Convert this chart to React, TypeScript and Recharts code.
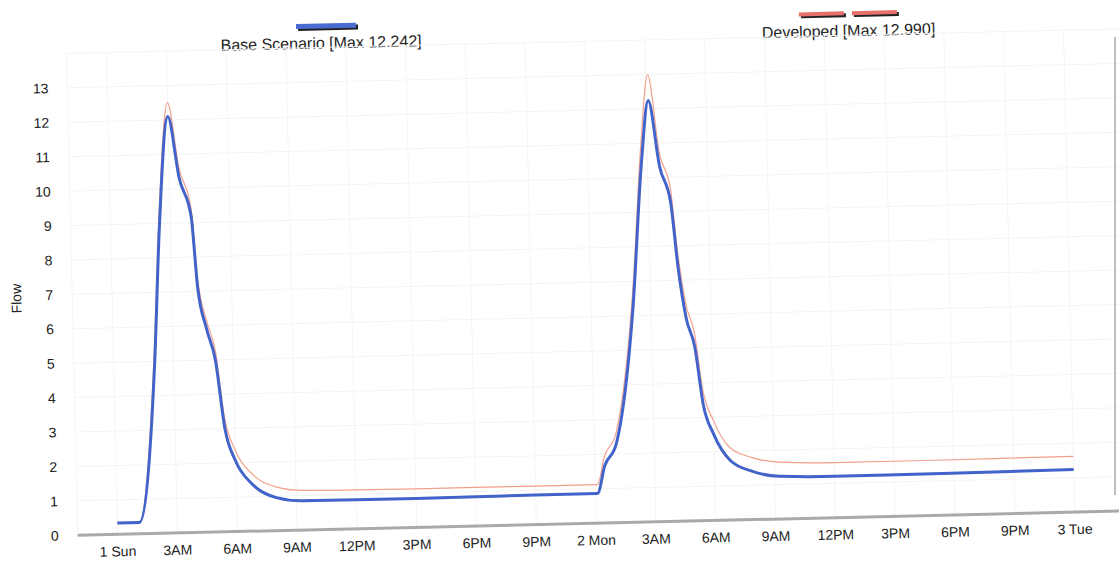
import React from "react";
import { LineChart, Line, XAxis, YAxis, CartesianGrid, Label } from "recharts";

// hours from "1 Sun" 00:00
const hours = [
  0, 1.1, 2.05, 2.45, 3.0, 3.5, 4.05, 4.3, 4.7, 5.1, 5.5, 6.0, 6.8, 8.0, 9.3,
  12, 15, 18, 21, 24.1, 24.5, 25.1, 26.1, 26.7, 27.1, 27.6, 28.1, 28.4, 28.75,
  29.15, 29.5, 30.0, 30.8, 31.9, 33.25, 36, 40, 44, 48,
];

const baseFlow = [
  0.33, 0.33, 4.9, 8.9, 12.1, 10.3, 9.2, 7.1, 5.9, 5.0, 3.0, 2.05, 1.37, 0.96, 0.85,
  0.84, 0.84, 0.85, 0.86, 0.86, 1.67, 2.29, 6.25, 10.5, 12.242, 10.3, 9.3, 7.4, 5.9,
  5.05, 3.4, 2.5, 1.73, 1.4, 1.24, 1.2, 1.21, 1.22, 1.24,
];

const developedFlow = [
  0.33, 0.33, 5.3, 9.3, 12.5, 10.6, 9.45, 7.4, 6.15, 5.3, 3.3, 2.35, 1.67, 1.27, 1.15,
  1.13, 1.12, 1.12, 1.12, 1.12, 1.95, 2.6, 6.7, 11.1, 12.99, 10.7, 9.7, 7.8, 6.3,
  5.45, 3.8, 2.9, 2.1, 1.8, 1.65, 1.6, 1.6, 1.61, 1.62,
];

const xTicks = [0, 3, 6, 9, 12, 15, 18, 21, 24, 27, 30, 33, 36, 39, 42, 45, 48];
const xTickLabels = [
  "1 Sun", "3AM", "6AM", "9AM", "12PM", "3PM", "6PM", "9PM", "2 Mon",
  "3AM", "6AM", "9AM", "12PM", "3PM", "6PM", "9PM", "3 Tue",
];
const yTicks = [0, 1, 2, 3, 4, 5, 6, 7, 8, 9, 10, 11, 12, 13];

const seriesNames = ["Base Scenario [Max 12.242]", "Developed [Max 12.990]"];

const data = hours.map((t, i) => ({
  t,
  base: baseFlow[i],
  developed: developedFlow[i],
}));

const FONT = "'Liberation Sans', Arial, sans-serif";

const FlowLabel = (props: any) => {
  const vb = props.viewBox || { x: 0, y: 0, width: 0, height: 0 };
  const cx = 21;
  const cy = vb.y + vb.height / 2 + 3;
  return (
    <text
      x={cx}
      y={cy}
      transform={`rotate(-90 ${cx} ${cy})`}
      textAnchor="middle"
      fontSize={14}
      fill="#222"
      fontFamily={FONT}
    >
      Flow
    </text>
  );
};

export default function App() {
  return (
    <div style={{ position: "absolute", left: 0, top: 0, width: 1119, height: 563, overflow: "hidden", background: "#fff" }}>
      <div
        style={{
          position: "absolute",
          left: 0,
          top: 0,
          width: 1119,
          height: 563,
          transform: "rotate(-1.33deg)",
          transformOrigin: "560px 281px",
          fontFamily: FONT,
        }}
      >
        <div
          style={{
            position: "absolute",
            left: 72,
            top: 18,
            width: 1037,
            display: "flex",
            fontSize: 16,
            color: "#222",
          }}
        >
          <div style={{ flex: 1, display: "flex", flexDirection: "column", alignItems: "center", paddingRight: 6 }}>
            <div
              style={{
                width: 60,
                height: 5,
                background: "#4a6bd2",
                boxShadow: "2px 2px 0 #222",
                marginBottom: 6,
                marginLeft: 10,
              }}
            />
            <div style={{ lineHeight: "18px" }}>{seriesNames[0]}</div>
          </div>
          <div style={{ flex: 1, display: "flex", flexDirection: "column", alignItems: "center", paddingLeft: 12 }}>
            <div style={{ display: "flex", gap: 8, marginBottom: 7 }}>
              <div style={{ width: 45, height: 4, background: "#e8706a", boxShadow: "2px 2px 0 #222" }} />
              <div style={{ width: 45, height: 4, background: "#e8706a", boxShadow: "2px 2px 0 #222" }} />
            </div>
            <div style={{ lineHeight: "18px" }}>{seriesNames[1]}</div>
          </div>
        </div>
        <LineChart
          width={1125}
          height={563}
          data={data}
          margin={{ top: 42, right: 0, bottom: 9, left: 0 }}
          style={{ position: "absolute", left: 0, top: 0 }}
        >
          <CartesianGrid stroke="#f4f4f4" strokeWidth={1} />
          <XAxis
            dataKey="t"
            type="number"
            domain={[-2, 50.8]}
            ticks={xTicks}
            height={30}
            tickFormatter={(v: number, i: number) => xTickLabels[i]}
            axisLine={{ stroke: "#a9a9a9", strokeWidth: 3 }}
            tickLine={false}
            tickSize={6}
            tickMargin={6}
            tick={{ fontSize: 14, fill: "#222", fontFamily: FONT }}
            interval={0}
            allowDataOverflow
          />
          <YAxis
            domain={[0, 14]}
            ticks={yTicks}
            width={72}
            axisLine={false}
            tickLine={false}
            tickSize={6}
            tickMargin={13}
            tick={{ fontSize: 14, fill: "#222", fontFamily: FONT }}
            interval={0}
            allowDataOverflow
          >
            <Label content={<FlowLabel />} />
          </YAxis>
          <Line
            type="monotone"
            dataKey="developed"
            stroke="#f2a08c"
            strokeWidth={1.2}
            dot={false}
            isAnimationActive={false}
          />
          <Line
            type="monotone"
            dataKey="base"
            stroke="#4263c9"
            strokeWidth={3}
            dot={false}
            isAnimationActive={false}
          />
        </LineChart>
      </div>
      <div
        style={{
          position: "absolute",
          left: 1114,
          top: 37,
          width: 2,
          height: 458,
          background: "#bdbdbd",
        }}
      />
    </div>
  );
}
